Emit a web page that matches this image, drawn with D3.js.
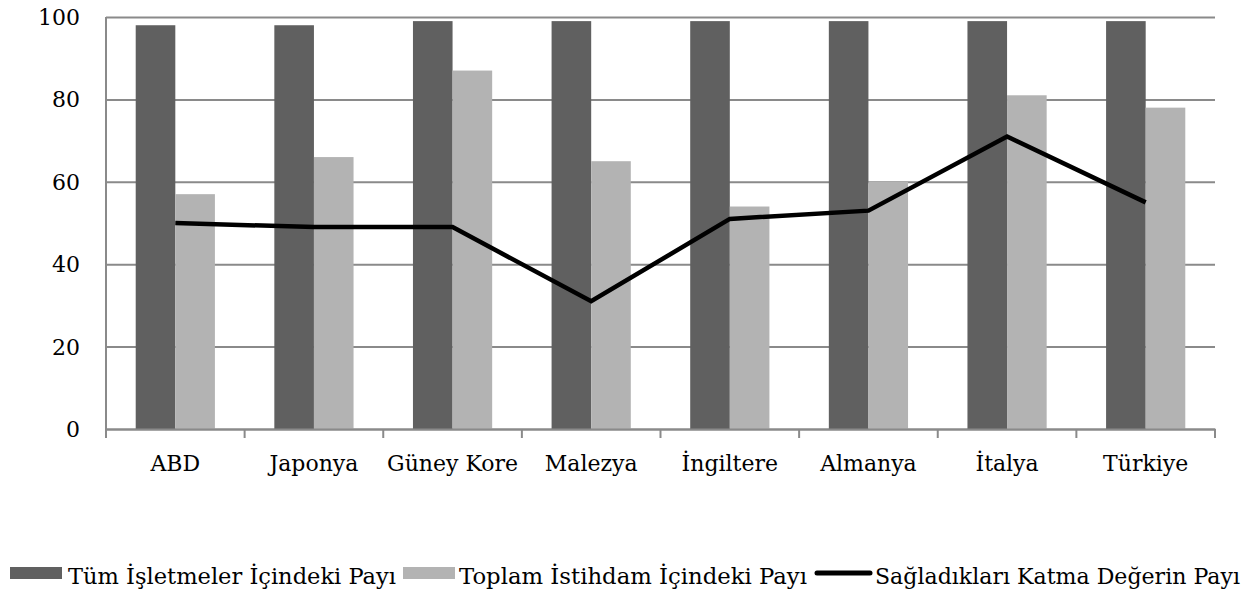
<!DOCTYPE html>
<html>
<head>
<meta charset="utf-8">
<script src="https://cdn.jsdelivr.net/npm/d3@7"></script>
<style>
    body { margin: 0; background: #fff; }
    svg text { font-family: "DejaVu Serif", serif; fill: #000; }
</style>
</head>
<body>
<div id="chart"></div>
<script>
const countries = ["ABD", "Japonya", "Güney Kore", "Malezya", "İngiltere", "Almanya", "İtalya", "Türkiye"];
const firmShare = [98, 98, 99, 99, 99, 99, 99, 99];
const employmentShare = [57, 66, 87, 65, 54, 60, 81, 78];
const valueAddedShare = [50, 49, 49, 31, 51, 53, 71, 55];
const yTicks = [0, 20, 40, 60, 80, 100];
const legendLabels = ["Tüm İşletmeler İçindeki Payı", "Toplam İstihdam İçindeki Payı", "Sağladıkları Katma Değerin Payı"];

const W = 1258, H = 593;
const margin = { top: 17, right: 43, bottom: 164, left: 106 };
const width = W - margin.left - margin.right;
const height = H - margin.top - margin.bottom;

const svg = d3.select("#chart").append("svg")
    .attr("width", W)
    .attr("height", H);

const g = svg.append("g")
    .attr("transform", `translate(${margin.left}, ${margin.top})`);

const x0 = d3.scaleBand()
    .domain(countries)
    .range([0, width])
    .padding(0);

const bw = x0.bandwidth();
const x1 = d3.scaleBand()
    .domain(["firm", "emp"])
    .range([bw * 0.75 / 3.5, bw * 2.75 / 3.5])
    .padding(0);

const y = d3.scaleLinear()
    .domain([0, 100])
    .range([height, 0]);

// grid + y axis
const yAxis = g.append("g")
    .call(d3.axisLeft(y).tickValues(yTicks).tickSize(8).tickFormat(""));
yAxis.select(".domain").remove();
yAxis.selectAll(".tick line")
    .attr("stroke", "#8a8a8a")
    .attr("stroke-width", 2)
    .attr("x2", width);

g.selectAll(".ylab")
    .data(yTicks)
    .enter()
    .append("text")
    .attr("class", "ylab")
    .attr("x", -26)
    .attr("y", d => y(d) + 8)
    .attr("text-anchor", "end")
    .style("font-size", "22px")
    .text(d => d);

// bars
const groups = g.selectAll(".grp")
    .data(countries)
    .enter()
    .append("g")
    .attr("transform", d => `translate(${x0(d)}, 0)`);

groups.append("rect")
    .attr("x", x1("firm"))
    .attr("width", x1.bandwidth())
    .attr("y", (d, i) => y(firmShare[i]))
    .attr("height", (d, i) => height - y(firmShare[i]))
    .attr("fill", "#606060");

groups.append("rect")
    .attr("x", x1("emp"))
    .attr("width", x1.bandwidth())
    .attr("y", (d, i) => y(employmentShare[i]))
    .attr("height", (d, i) => height - y(employmentShare[i]))
    .attr("fill", "#b3b3b3");

// x axis
const xAxis = g.append("g")
    .attr("transform", `translate(0, ${height})`)
    .call(d3.axisBottom(x0).tickSize(0).tickFormat(""));
xAxis.select(".domain")
    .attr("stroke", "#8a8a8a")
    .attr("stroke-width", 2);

const tickPos = countries.map(c => x0(c)).concat([width]);
g.selectAll(".xtick")
    .data(tickPos)
    .enter()
    .append("line")
    .attr("x1", d => d)
    .attr("x2", d => d)
    .attr("y1", height)
    .attr("y2", height + 9)
    .attr("stroke", "#8a8a8a")
    .attr("stroke-width", 2);

// y axis line
g.append("line")
    .attr("x1", 0).attr("x2", 0)
    .attr("y1", 0).attr("y2", height)
    .attr("stroke", "#8a8a8a")
    .attr("stroke-width", 2);

g.selectAll(".xlab")
    .data(countries)
    .enter()
    .append("text")
    .attr("class", "xlab")
    .attr("x", d => x0(d) + bw / 2)
    .attr("y", height + 42)
    .attr("text-anchor", "middle")
    .style("font-size", "22px")
    .text(d => d);

// line
const line = d3.line()
    .x((d, i) => x0(countries[i]) + bw / 2)
    .y(d => y(d));

g.append("path")
    .datum(valueAddedShare)
    .attr("d", line)
    .attr("fill", "none")
    .attr("stroke", "#000")
    .attr("stroke-width", 4.5)
    .attr("stroke-linejoin", "miter");

// legend
const legend = svg.append("g");
const lg = [
    { sx: 10, tx: 68, tw: 328, kind: "rect", color: "#606060" },
    { sx: 403, tx: 459, tw: 348, kind: "rect", color: "#b3b3b3" },
    { sx: 817, tx: 875, tw: 365, kind: "line", color: "#000" }
];

lg.forEach((d, i) => {
    if (d.kind === "rect") {
        legend.append("rect")
            .attr("x", d.sx)
            .attr("y", 567)
            .attr("width", 52)
            .attr("height", 12)
            .attr("fill", d.color);
    } else {
        legend.append("line")
            .attr("x1", d.sx)
            .attr("x2", d.sx + 53)
            .attr("y1", 573)
            .attr("y2", 573)
            .attr("stroke", d.color)
            .attr("stroke-width", 5)
            .attr("stroke-linecap", "round");
    }
    legend.append("text")
        .attr("x", d.tx)
        .attr("y", 584)
        .attr("textLength", d.tw)
        .attr("lengthAdjust", "spacingAndGlyphs")
        .style("font-size", "22px")
        .text(legendLabels[i]);
});
</script>
</body>
</html>
